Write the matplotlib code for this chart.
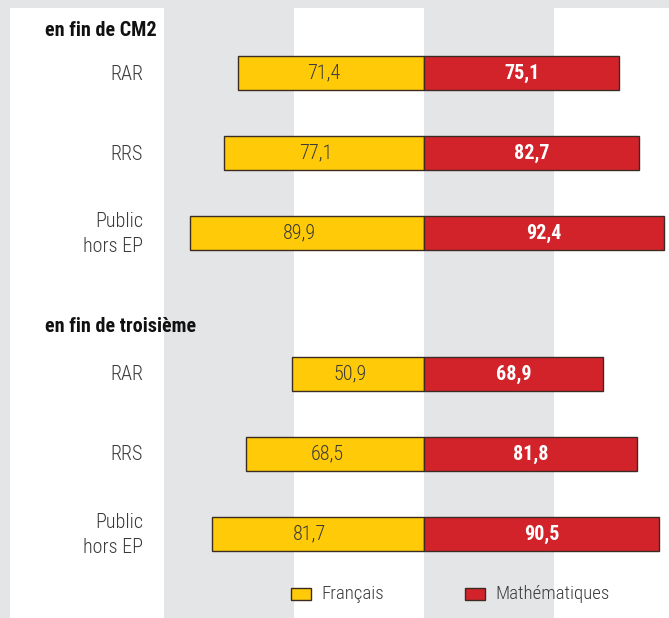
import numpy as np
import matplotlib.pyplot as plt
from matplotlib.patches import Rectangle
from matplotlib import font_manager

# ---------- data -----------------------------------------------------------
groups = ["en fin de CM2", "en fin de troisième"]
categories = ["RAR", "RRS", "Public\nhors EP"]
francais = [[71.4, 77.1, 89.9], [50.9, 68.5, 81.7]]
maths = [[75.1, 82.7, 92.4], [68.9, 81.8, 90.5]]
series_names = ["Français", "Mathématiques"]

# ---------- style ----------------------------------------------------------
names = {f.name for f in font_manager.fontManager.ttflist}
family = [f for f in ["Liberation Sans Narrow", "Roboto Condensed", "Liberation Sans"] if f in names]
plt.rcParams["font.family"] = family + ["DejaVu Sans"]

yellow = "#ffcb08"
red = "#d2232a"
edge = "#3b2b22"
grey = "#e4e5e7"
txt = "#3a3a3a"
fs = 14.5

# ---------- layout (pixel-like y, value x) ---------------------------------
px = 2.6                      # pixels per percentage point
W, H = 669, 618
center = 424
group_top = [73, 374]         # y of first bar in each group
step = 80
bar_h = 34
header_y = [31, 326]

fig = plt.figure(figsize=(W / 100, H / 100), dpi=100, facecolor=grey)
ax = fig.add_axes([0, 0, 1, 1])
ax.set_xlim(-center / px, (W - center) / px)
ax.set_ylim(H, 0)
ax.axis("off")
ax.set_facecolor(grey)

# white bands
top = 8
for x0, x1 in [(-(center - 10) / px, -100), (-50, 0), (50, (W - center) / px + 1)]:
    ax.add_patch(Rectangle((x0, top), x1 - x0, H - top, facecolor="white",
                           edgecolor="none", zorder=0))

for g, gname in enumerate(groups):
    ax.text(-(center - 45) / px, header_y[g], gname, ha="left", va="center",
            fontsize=fs, fontweight="bold", color="#111111")
    ys = group_top[g] + step * np.arange(len(categories))
    ax.barh(ys, -np.array(francais[g]), height=bar_h, color=yellow,
            edgecolor=edge, linewidth=1.0, zorder=2)
    ax.barh(ys, maths[g], height=bar_h, color=red,
            edgecolor=edge, linewidth=1.0, zorder=2)
    for y, cat, f, m in zip(ys, categories, francais[g], maths[g]):
        ax.text(-(center - 143) / px, y + 1, cat, ha="right", va="center",
                fontsize=fs, fontweight="light", color=txt, linespacing=1.4)
        ax.text(-f / 2 - 3, y, f"{f:.1f}".replace(".", ","), ha="center",
                va="center", fontsize=fs, fontweight="light", color=txt)
        ax.text(m / 2, y, f"{m:.1f}".replace(".", ","), ha="center",
                va="center", fontsize=fs, color="white", fontweight="bold")

# legend
leg_y = 594
for (x, name, col) in [(-(center - 291) / px, series_names[0], yellow),
                       ((465 - center) / px, series_names[1], red)]:
    ax.add_patch(Rectangle((x, leg_y - 6), 20 / px, 12, facecolor=col,
                           edgecolor=edge, linewidth=1.0, zorder=2))
    ax.text(x + 30 / px, leg_y, name, ha="left", va="center",
            fontsize=13.5, fontweight="light", color=txt)

fig.savefig("out.png", dpi=100, facecolor=grey)
